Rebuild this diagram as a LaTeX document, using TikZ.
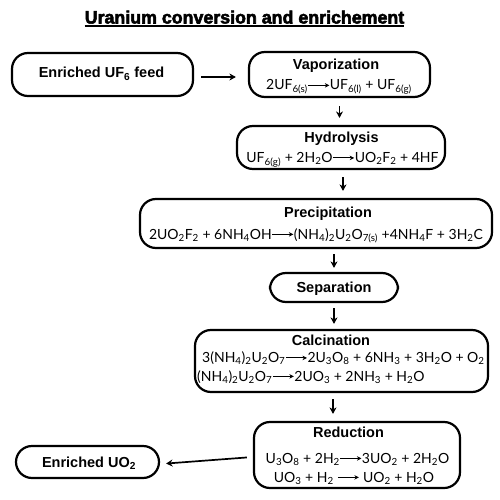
\documentclass[tikz,border=0pt]{standalone}
\usepackage{fontspec}
\setmainfont{Lato}
\newfontfamily\hfont{Liberation Sans}
\newfontfamily\tfont[UprightFont={* Bold}, FakeBold=3]{Liberation Sans}
\usetikzlibrary{arrows.meta}
\newcommand{\sbs}[1]{\textsubscript{#1}}
\newcommand{\rarr}{\tikz[baseline=-4.6pt]\draw[line width=1.1pt,-{Stealth[length=4.5pt,width=4.5pt]}] (0pt,0pt)--(21pt,0pt);}
\begin{document}
\begin{tikzpicture}[x=1pt,y=-1pt,
 box/.style={draw, line width=2.2pt, rounded corners=16pt, inner sep=0pt},
 ttl/.style={font=\hfont\bfseries\fontsize{14.5}{16}\selectfont, anchor=base, inner sep=0pt},
 eqn/.style={font=\fontsize{14}{16}\selectfont, anchor=base, inner sep=0pt},
 arr/.style={line width=1.7pt, -{Stealth[length=6.5pt,width=7pt]}}]
\useasboundingbox (0,0) rectangle (500,500);
% title
\node[font=\tfont\fontsize{17.8}{19}\selectfont, anchor=base, inner sep=0pt] (title) at (244.5,23.5) {Uranium conversion and enrichement};
\draw[line width=1.6pt] ([yshift=-2.8pt]title.base west) -- ([yshift=-2.8pt]title.base east);
% boxes
\node[box, minimum width=181pt, minimum height=43pt] (feed) at (102.5,74.5) {};
\node[box, minimum width=181pt, minimum height=45pt] (vap) at (339.5,74.5) {};
\node[box, minimum width=208pt, minimum height=43pt] (hyd) at (341,147.5) {};
\node[box, minimum width=352pt, minimum height=49pt] (prec) at (316,223.5) {};
\node[box, minimum width=128pt, minimum height=29pt] (sep) at (334,287.5) {};
\node[box, minimum width=293pt, minimum height=62pt] (calc) at (341.5,361) {};
\node[box, minimum width=206pt, minimum height=66pt] (red) at (357,455) {};
\node[box, minimum width=143pt, minimum height=32pt] (uo2) at (87.5,462) {};
% texts
\node[ttl] (feedT) at (101.5,78) {Enriched UF\sbs{6} feed};
\node[ttl] (vapT) at (336,70) {Vaporization};
\node[eqn] (vapE) at (339,90) {2UF\sbs{6(s)}\rarr UF\sbs{6(l)} + UF\sbs{6(g)}};
\node[ttl] (hydT) at (341.5,142.5) {Hydrolysis};
\node[eqn] (hydE) at (342.5,162.5) {UF\sbs{6(g)} + 2H\sbs{2}O\rarr UO\sbs{2}F\sbs{2} + 4HF};
\node[ttl] (precT) at (328,217) {Precipitation};
\node[eqn] (precE) at (316,239) {2UO\sbs{2}F\sbs{2} + 6NH\sbs{4}OH\rarr(NH\sbs{4})\sbs{2}U\sbs{2}O\sbs{7(s)} +4NH\sbs{4}F + 3H\sbs{2}C};
\node[ttl] (sepT) at (334,292) {Separation};
\node[ttl] (calcT) at (331,345) {Calcination};
\node[eqn, anchor=base west] (calcE1) at (202,362.5) {3(NH\sbs{4})\sbs{2}U\sbs{2}O\sbs{7}\rarr2U\sbs{3}O\sbs{8} + 6NH\sbs{3} + 3H\sbs{2}O + O\sbs{2}};
\node[eqn, anchor=base west] (calcE2) at (197,381) {(NH\sbs{4})\sbs{2}U\sbs{2}O\sbs{7}\rarr2UO\sbs{3} + 2NH\sbs{3} + H\sbs{2}O};
\node[ttl] (redT) at (348.5,437) {Reduction};
\node[eqn] (redE1) at (357.5,463) {U\sbs{3}O\sbs{8} + 2H\sbs{2}\rarr3UO\sbs{2} + 2H\sbs{2}O};
\node[eqn] (redE2) at (354,482) {UO\sbs{3} + H\sbs{2} \rarr{} UO\sbs{2} + H\sbs{2}O};
\node[ttl] (uo2T) at (89,467) {Enriched UO\sbs{2}};
% arrows
\draw[arr, shorten <=7pt, shorten >=12pt] ([yshift=-2.5pt]feed.east) -- ([yshift=-2.5pt]vap.west);
\draw[arr, shorten <=8pt, shorten >=7pt] (vap.south) -- (vap.south |- hyd.north);
\draw[arr, shorten <=7pt, shorten >=7pt] (hyd.south -| 343,0) -- (prec.north -| 343,0);
\draw[arr, shorten <=5pt, shorten >=4pt] (prec.south -| sep.north) -- (sep.north);
\draw[arr, shorten <=5pt, shorten >=5pt] (sep.south) -- (sep.south |- calc.north);
\draw[arr, shorten <=6pt, shorten >=7pt] (calc.south -| 333,0) -- (red.north -| 333,0);
\draw[arr, shorten <=6pt, shorten >=6pt] ([yshift=-2pt]red.west) -- ([yshift=-2pt]uo2.east);
\end{tikzpicture}
\end{document}
